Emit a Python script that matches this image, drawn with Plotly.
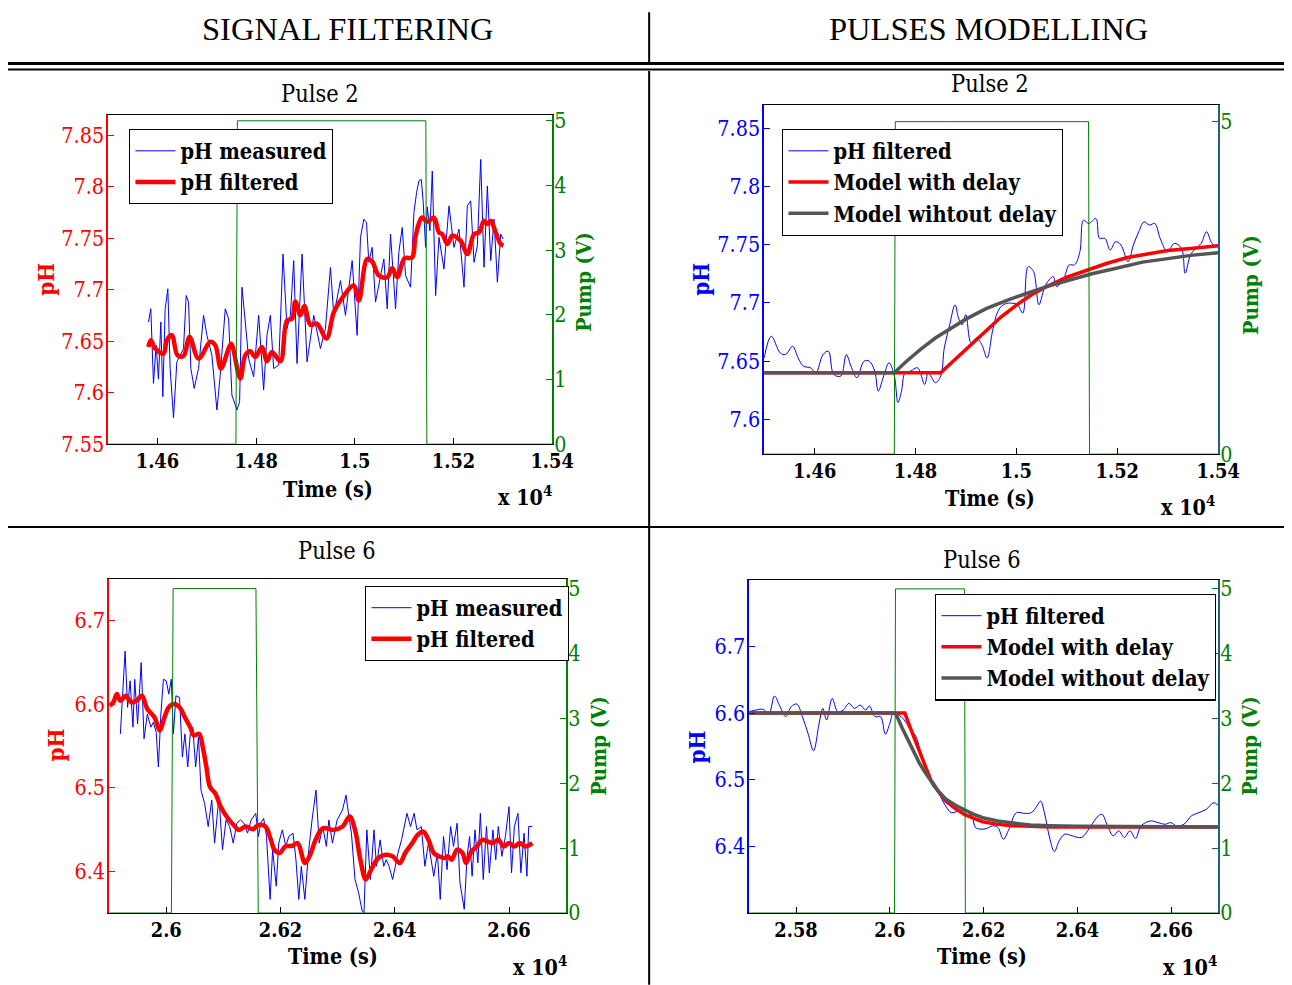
import plotly.graph_objects as go

# ------------------------------------------------------------------ data
# Pulse 2 - signal filtering
p1_meas_t = [1.45817, 1.45865, 1.45919, 1.45973, 1.46020, 1.46068, 1.46108, 1.46156, 1.46210, 1.46257,
             1.46325, 1.46393, 1.46460, 1.46528, 1.46582, 1.46630, 1.46677, 1.46745, 1.46832, 1.46934,
             1.47002, 1.47103, 1.47205, 1.47272, 1.47374, 1.47442, 1.47509, 1.47611, 1.47665, 1.47712,
             1.47780, 1.47848, 1.47949, 1.48051, 1.48152, 1.48220, 1.48288, 1.48355, 1.48457, 1.48545,
             1.48626, 1.48694, 1.48761, 1.48829, 1.48931, 1.49032, 1.49168, 1.49303, 1.49404, 1.49506,
             1.49574, 1.49709, 1.49811, 1.49946, 1.50047, 1.50115, 1.50183, 1.50237, 1.50284, 1.50352,
             1.50420, 1.50521, 1.50589, 1.50657, 1.50724, 1.50826, 1.50893, 1.50961, 1.51029, 1.51130,
             1.51198, 1.51252, 1.51299, 1.51347, 1.51387, 1.51435, 1.51469, 1.51523, 1.51570, 1.51638,
             1.51706, 1.51807, 1.51909, 1.52010, 1.52112, 1.52213, 1.52281, 1.52349, 1.52416, 1.52484,
             1.52552, 1.52619, 1.52687, 1.52755, 1.52822, 1.52890, 1.52958, 1.53005]
p1_meas_ph = [7.6687, 7.6816, 7.6090, 7.6461, 7.6132, 7.6687, 7.5961, 7.6816, 7.7010, 7.6235,
              7.5758, 7.6300, 7.6365, 7.6429, 7.6945, 7.6881, 7.6235, 7.6042, 7.6235, 7.6752,
              7.6558, 7.6365, 7.5832, 7.6171, 7.6816, 7.6719, 7.5977, 7.5832, 7.5913, 7.7026,
              7.6687, 7.6332, 7.6155, 7.6752, 7.6026, 7.6558, 7.6752, 7.6235, 7.6268, 7.7348,
              7.6623, 7.6752, 7.7284, 7.6284, 7.7348, 7.6300, 7.6752, 7.6429, 7.6623, 7.7219,
              7.6752, 7.7090, 7.6752, 7.7284, 7.6558, 7.7510, 7.7687, 7.7655, 7.7268, 7.7413,
              7.6881, 7.7139, 7.7300, 7.6816, 7.7542, 7.6816, 7.7365, 7.7606, 7.7139, 7.7026,
              7.7752, 7.7945, 7.8058, 7.8074, 7.7848, 7.7413, 7.7806, 7.7574, 7.8155, 7.6945,
              7.7510, 7.7203, 7.7816, 7.7413, 7.7590, 7.7026, 7.7816, 7.7865, 7.7268, 7.7429,
              7.8268, 7.7220, 7.8010, 7.7284, 7.7687, 7.7074, 7.7542, 7.7494]
p1_filt_t = [1.45817, 1.45865, 1.45953, 1.46122, 1.46190, 1.46291, 1.46406, 1.46528, 1.46650, 1.46832,
             1.47069, 1.47171, 1.47286, 1.47442, 1.47496, 1.47679, 1.47780, 1.47882, 1.47983, 1.48118,
             1.48220, 1.48321, 1.48491, 1.48626, 1.48728, 1.48795, 1.48897, 1.48978, 1.49100, 1.49235,
             1.49425, 1.49574, 1.49709, 1.49980, 1.50081, 1.50250, 1.50352, 1.50487, 1.50657, 1.50758,
             1.50860, 1.51008, 1.51164, 1.51232, 1.51367, 1.51469, 1.51604, 1.51706, 1.51773, 1.51875,
             1.51976, 1.52145, 1.52281, 1.52416, 1.52518, 1.52619, 1.52687, 1.52755, 1.52856, 1.52958,
             1.53012]
p1_filt_ph = [7.6445, 7.6510, 7.6430, 7.6380, 7.6510, 7.6560, 7.6365, 7.6358, 7.6542, 7.6332,
              7.6494, 7.6461, 7.6235, 7.6430, 7.6477, 7.6139, 7.6365, 7.6403, 7.6348, 7.6445,
              7.6306, 7.6397, 7.6306, 7.6703, 7.6719, 7.6887, 7.6752, 7.6842, 7.6661, 7.6671,
              7.6526, 7.6784, 7.6897, 7.7042, 7.6897, 7.7300, 7.7274, 7.7139, 7.7123, 7.7210,
              7.7123, 7.7306, 7.7316, 7.7526, 7.7703, 7.7661, 7.7703, 7.7558, 7.7542, 7.7445,
              7.7526, 7.7477, 7.7348, 7.7542, 7.7558, 7.7671, 7.7639, 7.7671, 7.7558, 7.7445,
              7.7429]
p1_pump_t = [1.4500, 1.4759, 1.4762, 1.5144, 1.5146, 1.5400]
p1_pump_v = [0, 0, 5, 5, 0, 0]

# Pulse 2 - pulses modelling
p2_filt_t = [1.45000, 1.45141, 1.45318, 1.45424, 1.45566, 1.45672, 1.45778, 1.45919, 1.46025, 1.46167,
             1.46273, 1.46379, 1.46521, 1.46627, 1.46733, 1.46839, 1.46980, 1.47086, 1.47192, 1.47263,
             1.47369, 1.47475, 1.47581, 1.47652, 1.47723, 1.47793, 1.47900, 1.48041, 1.48182, 1.48253,
             1.48395, 1.48501, 1.48571, 1.48678, 1.48784, 1.48854, 1.48925, 1.48996, 1.49102, 1.49208,
             1.49314, 1.49420, 1.49526, 1.49632, 1.49738, 1.49880, 1.50021, 1.50127, 1.50233, 1.50339,
             1.50446, 1.50552, 1.50622, 1.50728, 1.50799, 1.50941, 1.51047, 1.51153, 1.51259, 1.51330,
             1.51436, 1.51577, 1.51648, 1.51754, 1.51860, 1.51966, 1.52072, 1.52214, 1.52320, 1.52426,
             1.52532, 1.52638, 1.52744, 1.52850, 1.52992, 1.53133, 1.53274, 1.53345, 1.53451, 1.53557,
             1.53663, 1.53769, 1.53876, 1.53982]
p2_filt_ph = [7.6527, 7.6713, 7.6570, 7.6556, 7.6627, 7.6527, 7.6456, 7.6442, 7.6399, 7.6556,
              7.6584, 7.6385, 7.6371, 7.6556, 7.6442, 7.6356, 7.6499, 7.6499, 7.6413, 7.6242,
              7.6371, 7.6485, 7.6371, 7.6143, 7.6242, 7.6399, 7.6413, 7.6442, 7.6299, 7.6399,
              7.6314, 7.6371, 7.6613, 7.6812, 7.6983, 7.6869, 7.6812, 7.6898, 7.6656, 7.6698,
              7.6641, 7.6527, 7.6755, 7.6926, 7.6983, 7.6998, 7.6983, 7.6912, 7.7311, 7.7269,
              7.6983, 7.7126, 7.7183, 7.7226, 7.7140, 7.7212, 7.7326, 7.7326, 7.7440, 7.7710,
              7.7682, 7.7725, 7.7554, 7.7554, 7.7454, 7.7525, 7.7497, 7.7354, 7.7497, 7.7611,
              7.7696, 7.7668, 7.7682, 7.7554, 7.7440, 7.7511, 7.7468, 7.7254, 7.7411, 7.7468,
              7.7511, 7.7611, 7.7511, 7.7482]
p2_delay_t = [1.450, 1.485, 1.488, 1.491, 1.494, 1.497, 1.500, 1.503, 1.506, 1.510, 1.514,
              1.518, 1.522, 1.526, 1.530, 1.535, 1.540]
p2_delay_ph = [7.640, 7.640, 7.652, 7.664, 7.676, 7.688, 7.698, 7.707, 7.714, 7.722, 7.728,
               7.734, 7.739, 7.742, 7.745, 7.747, 7.749]
p2_nodelay_t = [1.450, 1.4758, 1.478, 1.481, 1.484, 1.487, 1.490, 1.494, 1.498, 1.502, 1.506,
                1.510, 1.515, 1.520, 1.525, 1.530, 1.535, 1.540]
p2_nodelay_ph = [7.640, 7.640, 7.649, 7.660, 7.670, 7.678, 7.686, 7.695, 7.702, 7.708, 7.714,
                 7.719, 7.725, 7.730, 7.735, 7.738, 7.741, 7.743]
p2_pump_t = [1.4500, 1.4758, 1.4760, 1.5143, 1.5145, 1.5400]
p2_pump_v = [0, 0, 5, 5, 0, 0]

# Pulse 6 - signal filtering
p3_meas_t = [2.59197, 2.59229, 2.59279, 2.59323, 2.59367, 2.59417, 2.59448, 2.59498, 2.59561, 2.59611,
             2.59668, 2.59730, 2.59774, 2.59824, 2.59862, 2.59906, 2.59950, 2.60000, 2.60044, 2.60088,
             2.60125, 2.60169, 2.60232, 2.60282, 2.60326, 2.60376, 2.60420, 2.60464, 2.60514, 2.60564,
             2.60608, 2.60671, 2.60734, 2.60796, 2.60846, 2.60922, 2.60984, 2.61047, 2.61110, 2.61172,
             2.61235, 2.61298, 2.61361, 2.61423, 2.61486, 2.61567, 2.61611, 2.61655, 2.61705, 2.61755,
             2.61818, 2.61862, 2.61925, 2.61969, 2.62031, 2.62094, 2.62144, 2.62219, 2.62270, 2.62320,
             2.62364, 2.62426, 2.62489, 2.62552, 2.62621, 2.62677, 2.62740, 2.62803, 2.62846, 2.62909,
             2.62991, 2.63085, 2.63147, 2.63197, 2.63241, 2.63304, 2.63367, 2.63429, 2.63461, 2.63511,
             2.63574, 2.63636, 2.63680, 2.63743, 2.63806, 2.63850, 2.63900, 2.63962, 2.64056, 2.64119,
             2.64163, 2.64213, 2.64276, 2.64339, 2.64389, 2.64464, 2.64527, 2.64589, 2.64683, 2.64746,
             2.64796, 2.64853, 2.64915, 2.64978, 2.65028, 2.65091, 2.65141, 2.65216, 2.65266, 2.65310,
             2.65354, 2.65404, 2.65455, 2.65498, 2.65549, 2.65605, 2.65655, 2.65718, 2.65768, 2.65812,
             2.65875, 2.65937, 2.66000, 2.66044, 2.66094, 2.66157, 2.66207, 2.66263, 2.66313, 2.66345,
             2.66408]
p3_meas_ph = [6.5644, 6.6080, 6.6635, 6.5962, 6.6279, 6.5724, 6.6298, 6.5763, 6.6497, 6.5585,
              6.5882, 6.5724, 6.5783, 6.5664, 6.5248, 6.5882, 6.6298, 6.6279, 6.6120, 6.6298,
              6.5644, 6.6100, 6.6080, 6.5367, 6.5644, 6.5248, 6.5644, 6.5724, 6.5248, 6.5605,
              6.4971, 6.4812, 6.4535, 6.4852, 6.4337, 6.4891, 6.4257, 6.4614, 6.4535, 6.4337,
              6.4574, 6.4614, 6.4574, 6.4455, 6.4614, 6.4693, 6.4416, 6.4574, 6.4634, 6.4416,
              6.3663, 6.4257, 6.3821, 6.4337, 6.4495, 6.4297, 6.4416, 6.4455, 6.4138, 6.3663,
              6.4059, 6.3663, 6.4218, 6.4614, 6.4971, 6.4337, 6.4535, 6.4297, 6.4614, 6.4337,
              6.4614, 6.4733, 6.4911, 6.4654, 6.4455, 6.3901, 6.3742, 6.3524, 6.3504, 6.4495,
              6.3901, 6.4495, 6.4059, 6.4376, 6.4059, 6.4138, 6.4059, 6.3901, 6.4218, 6.4376,
              6.4535, 6.4693, 6.4535, 6.4693, 6.4495, 6.4535, 6.4059, 6.4337, 6.3940, 6.4218,
              6.3663, 6.4416, 6.4019, 6.4535, 6.4297, 6.4574, 6.3861, 6.3544, 6.4178, 6.4416,
              6.3940, 6.4495, 6.4099, 6.4693, 6.3901, 6.4535, 6.3980, 6.4495, 6.4138, 6.4535,
              6.4178, 6.4416, 6.4773, 6.3980, 6.4535, 6.4693, 6.3980, 6.4455, 6.3940, 6.4535,
              6.4535]
p3_filt_t = [2.59009, 2.59072, 2.59135, 2.59197, 2.59292, 2.59386, 2.59480, 2.59574, 2.59668, 2.59793,
             2.59887, 2.59950, 2.60044, 2.60138, 2.60232, 2.60326, 2.60420, 2.60483, 2.60577, 2.60639,
             2.60702, 2.60765, 2.60859, 2.60953, 2.61078, 2.61204, 2.61266, 2.61392, 2.61517, 2.61611,
             2.61737, 2.61831, 2.61893, 2.61987, 2.62082, 2.62207, 2.62301, 2.62426, 2.62520, 2.62614,
             2.62740, 2.62928, 2.63085, 2.63210, 2.63304, 2.63398, 2.63492, 2.63586, 2.63712, 2.63837,
             2.63962, 2.64088, 2.64182, 2.64307, 2.64401, 2.64495, 2.64589, 2.64683, 2.64777, 2.64871,
             2.64934, 2.64997, 2.65091, 2.65185, 2.65248, 2.65342, 2.65436, 2.65530, 2.65624, 2.65718,
             2.65812, 2.65906, 2.66000, 2.66094, 2.66188, 2.66282, 2.66408]
p3_filt_ph = [6.5981, 6.6021, 6.6120, 6.6041, 6.6100, 6.6021, 6.6041, 6.6100, 6.5942, 6.5843,
              6.5684, 6.5803, 6.5962, 6.6001, 6.5962, 6.5843, 6.5724, 6.5625, 6.5644, 6.5486,
              6.5248, 6.5010, 6.4931, 6.4772, 6.4634, 6.4535, 6.4495, 6.4535, 6.4503, 6.4554,
              6.4535, 6.4376, 6.4257, 6.4218, 6.4297, 6.4305, 6.4337, 6.4099, 6.4198, 6.4376,
              6.4515, 6.4495, 6.4535, 6.4654, 6.4495, 6.4138, 6.3901, 6.4019, 6.4158, 6.4198,
              6.4178, 6.4099, 6.4218, 6.4337, 6.4436, 6.4475, 6.4376, 6.4218, 6.4178, 6.4158,
              6.4178, 6.4138, 6.4257, 6.4218, 6.4099, 6.4237, 6.4297, 6.4376, 6.4356, 6.4337,
              6.4376, 6.4297, 6.4337, 6.4297, 6.4337, 6.4297, 6.4337]
p3_pump_t = [2.5900, 2.6009, 2.6012, 2.6157, 2.6161, 2.6700]
p3_pump_v = [0, 0, 5, 5, 0, 0]

# Pulse 6 - pulses modelling
p4_filt_t = [2.57000, 2.57143, 2.57302, 2.57421, 2.57540, 2.57659, 2.57778, 2.57897, 2.58016, 2.58135,
             2.58254, 2.58373, 2.58492, 2.58571, 2.58651, 2.58770, 2.58889, 2.59008, 2.59127, 2.59246,
             2.59365, 2.59484, 2.59563, 2.59683, 2.59802, 2.59905, 2.60000, 2.60079, 2.60238, 2.60357,
             2.60437, 2.60556, 2.60675, 2.60794, 2.60913, 2.61032, 2.61190, 2.61310, 2.61468, 2.61587,
             2.61746, 2.61825, 2.61944, 2.62063, 2.62183, 2.62302, 2.62421, 2.62540, 2.62698, 2.62857,
             2.63016, 2.63135, 2.63214, 2.63294, 2.63413, 2.63508, 2.63611, 2.63730, 2.63889, 2.64087,
             2.64286, 2.64444, 2.64524, 2.64643, 2.64762, 2.64881, 2.65000, 2.65119, 2.65238, 2.65357,
             2.65556, 2.65714, 2.65873, 2.65992, 2.66111, 2.66270, 2.66429, 2.66587, 2.66746, 2.66905,
             2.67000]
p4_filt_ph = [6.6021, 6.6046, 6.6056, 6.5987, 6.6255, 6.6096, 6.5947, 6.6096, 6.6136, 6.5947,
              6.5698, 6.5435, 6.5847, 6.6071, 6.5897, 6.6220, 6.6021, 6.6046, 6.6146, 6.6071,
              6.6121, 6.6046, 6.6106, 6.5947, 6.5947, 6.5684, 6.5847, 6.5997, 6.5947, 6.5847,
              6.5748, 6.5649, 6.5351, 6.5102, 6.4904, 6.4804, 6.4606, 6.4506, 6.4531, 6.4531,
              6.4457, 6.4283, 6.4258, 6.4268, 6.4308, 6.4283, 6.4109, 6.4258, 6.4506, 6.4496,
              6.4506, 6.4606, 6.4680, 6.4506, 6.4109, 6.3920, 6.4084, 6.4183, 6.4158, 6.4134,
              6.4308, 6.4457, 6.4481, 6.4308, 6.4158, 6.4233, 6.4134, 6.4233, 6.4119, 6.4308,
              6.4382, 6.4357, 6.4332, 6.4357, 6.4308, 6.4332, 6.4457, 6.4506, 6.4556, 6.4655,
              6.4615]
p4_delay_t = [2.570, 2.6032, 2.6044, 2.6056, 2.6071, 2.6087, 2.6103, 2.6119, 2.6139, 2.6159,
              2.6179, 2.6198, 2.6230, 2.6262, 2.6300, 2.6341, 2.6400, 2.6700]
p4_delay_ph = [6.600, 6.600, 6.577, 6.555, 6.527, 6.500, 6.483, 6.468, 6.457, 6.448,
               6.442, 6.437, 6.433, 6.431, 6.430, 6.429, 6.429, 6.429]
p4_nodelay_t = [2.570, 2.6012, 2.6026, 2.6040, 2.6051, 2.6063, 2.6075, 2.6087, 2.6103, 2.6119,
                2.6139, 2.6159, 2.6179, 2.6198, 2.6230, 2.6262, 2.6300, 2.6341, 2.6400, 2.6700]
p4_nodelay_ph = [6.600, 6.600, 6.578, 6.557, 6.540, 6.525, 6.511, 6.498, 6.483, 6.471,
                 6.462, 6.455, 6.448, 6.443, 6.438, 6.435, 6.432, 6.431, 6.430, 6.429]
p4_pump_t = [2.5700, 2.6010, 2.6012, 2.6159, 2.6161, 2.6700]
p4_pump_v = [0, 0, 5, 5, 0, 0]

# tick labels
p1_xticks = [1.46, 1.48, 1.50, 1.52, 1.54]
p1_xlabels = ["1.46", "1.48", "1.5", "1.52", "1.54"]
p1_yticks = [7.55, 7.60, 7.65, 7.70, 7.75, 7.80, 7.85]
p1_ylabels = ["7.55", "7.6", "7.65", "7.7", "7.75", "7.8", "7.85"]
p2_yticks = [7.60, 7.65, 7.70, 7.75, 7.80, 7.85]
p2_ylabels = ["7.6", "7.65", "7.7", "7.75", "7.8", "7.85"]
p3_xticks = [2.60, 2.62, 2.64, 2.66]
p3_xlabels = ["2.6", "2.62", "2.64", "2.66"]
p4_xticks = [2.58, 2.60, 2.62, 2.64, 2.66]
p4_xlabels = ["2.58", "2.6", "2.62", "2.64", "2.66"]
p6_yticks = [6.4, 6.5, 6.6, 6.7]
p6_ylabels = ["6.4", "6.5", "6.6", "6.7"]
pump_ticks = [0, 1, 2, 3, 4, 5]
pump_labels = ["0", "1", "2", "3", "4", "5"]
pump_ticks_short = [0, 5]
pump_labels_short = ["0", "5"]

# ------------------------------------------------------------------ layout helpers
S = 0.983                 # page-to-picture scale observed for this renderer
W, H = 1296, 978
LEFT, TOP = 8, 13
def X(px):
    return (px / S - LEFT) / W
def Y(py):
    return 1 - (py / S - TOP) / H
def F(sz):
    return sz / S

HFONT = "Liberation Serif"
FONT = "DejaVu Serif Condensed, DejaVu Serif, serif"
RED, BLUE, GREEN, GRAY, TEAL = "#ff0000", "#0000ff", "#008000", "#555555", "#22607e"

fig = go.Figure()

panels = [
    dict(box=(108, 552, 113, 443), xr=[1.45, 1.54], xt=p1_xticks, xl=p1_xlabels,
         yr=[7.55, 7.87], yt=p1_yticks, yl=p1_ylabels, lc=RED,
         y2r=[0, 5.09], y2t=pump_ticks, y2l=pump_labels, rc=GREEN),
    dict(box=(764, 1218, 103, 453), xr=[1.45, 1.54], xt=p1_xticks, xl=p1_xlabels,
         yr=[7.57, 7.87], yt=p2_yticks, yl=p2_ylabels, lc=BLUE,
         y2r=[0, 5.25], y2t=pump_ticks_short, y2l=pump_labels_short, rc=TEAL),
    dict(box=(109, 566, 578, 913), xr=[2.59, 2.67], xt=p3_xticks, xl=p3_xlabels,
         yr=[6.35, 6.75], yt=p6_yticks, yl=p6_ylabels, lc=RED,
         y2r=[0, 5.15], y2t=pump_ticks, y2l=pump_labels, rc=GREEN),
    dict(box=(749, 1218, 579, 913), xr=[2.57, 2.67], xt=p4_xticks, xl=p4_xlabels,
         yr=[6.30, 6.80], yt=p6_yticks, yl=p6_ylabels, lc=BLUE,
         y2r=[0, 5.14], y2t=pump_ticks, y2l=pump_labels, rc=TEAL),
]

layout_axes = {}
for i, p in enumerate(panels, start=1):
    x0, x1, y0, y1 = p["box"]
    xn = "xaxis" if i == 1 else f"xaxis{i}"
    yl_n = 2 * i - 1
    yr_n = 2 * i
    xref = "x" if i == 1 else f"x{i}"
    ylref = "y" if yl_n == 1 else f"y{yl_n}"
    layout_axes[xn] = dict(
        domain=[X(x0), X(x1)], range=p["xr"], anchor=ylref,
        tickmode="array", tickvals=p["xt"], ticktext=p["xl"],
        ticks="inside", ticklen=6, tickcolor="black", mirror=True,
        showline=True, linecolor="black", linewidth=1.2,
        showgrid=False, zeroline=False,
        tickfont=dict(family=FONT, size=F(19.5), color="black", weight="bold"),
        ticklabelstandoff=-1,
    )
    layout_axes[f"yaxis{yl_n}"] = dict(
        domain=[Y(y1), Y(y0)], range=p["yr"], anchor=xref,
        tickmode="array", tickvals=p["yt"], ticktext=p["yl"],
        ticks="inside", ticklen=6, tickcolor=p["lc"], mirror=True,
        showline=True, linecolor=p["lc"], linewidth=1.5,
        showgrid=False, zeroline=False,
        tickfont=dict(family=FONT, size=F(21), color=p["lc"]),
        ticklabelstandoff=-2,
    )
    layout_axes[f"yaxis{yr_n}"] = dict(
        range=p["y2r"], anchor=xref, overlaying=ylref, side="right",
        tickmode="array", tickvals=p["y2t"], ticktext=p["y2l"],
        ticks="inside", ticklen=6, tickcolor=GREEN,
        showline=True, linecolor=p["rc"], linewidth=1.5,
        showgrid=False, zeroline=False,
        tickfont=dict(family=FONT, size=F(21), color=GREEN),
        ticklabelstandoff=-4,
    )

fig.update_layout(**layout_axes)

def refs(i):
    xref = "x" if i == 1 else f"x{i}"
    yl = 2 * i - 1
    ylref = "y" if yl == 1 else f"y{yl}"
    return xref, ylref, f"y{2 * i}"

# panel 1
xr, yl, yr = refs(1)
fig.add_trace(go.Scatter(x=p1_meas_t, y=p1_meas_ph, mode="lines", name="pH measured",
                         line=dict(color=BLUE, width=1), xaxis=xr, yaxis=yl, legend="legend"))
fig.add_trace(go.Scatter(x=p1_filt_t, y=p1_filt_ph, mode="lines", name="pH filtered",
                         line=dict(color=RED, width=4.5, shape="spline"), xaxis=xr, yaxis=yl, legend="legend"))
fig.add_trace(go.Scatter(x=p1_pump_t, y=p1_pump_v, mode="lines", showlegend=False,
                         line=dict(color=GREEN, width=1), xaxis=xr, yaxis=yr))

# panel 2
xr, yl, yr = refs(2)
fig.add_trace(go.Scatter(x=p2_filt_t, y=p2_filt_ph, mode="lines", name="pH filtered",
                         line=dict(color=BLUE, width=1, shape="spline"), xaxis=xr, yaxis=yl, legend="legend2"))
fig.add_trace(go.Scatter(x=p2_delay_t, y=p2_delay_ph, mode="lines", name="Model with delay",
                         line=dict(color=RED, width=3.5), xaxis=xr, yaxis=yl, legend="legend2"))
fig.add_trace(go.Scatter(x=p2_nodelay_t, y=p2_nodelay_ph, mode="lines", name="Model wihtout delay",
                         line=dict(color=GRAY, width=3.5), xaxis=xr, yaxis=yl, legend="legend2"))
fig.add_trace(go.Scatter(x=p2_pump_t, y=p2_pump_v, mode="lines", showlegend=False,
                         line=dict(color=GREEN, width=1), xaxis=xr, yaxis=yr))

# panel 3
xr, yl, yr = refs(3)
fig.add_trace(go.Scatter(x=p3_meas_t, y=p3_meas_ph, mode="lines", name="pH measured",
                         line=dict(color=BLUE, width=1), xaxis=xr, yaxis=yl, legend="legend3"))
fig.add_trace(go.Scatter(x=p3_filt_t, y=p3_filt_ph, mode="lines", name="pH filtered",
                         line=dict(color=RED, width=4.5, shape="spline"), xaxis=xr, yaxis=yl, legend="legend3"))
fig.add_trace(go.Scatter(x=p3_pump_t, y=p3_pump_v, mode="lines", showlegend=False,
                         line=dict(color=GREEN, width=1), xaxis=xr, yaxis=yr))

# panel 4
xr, yl, yr = refs(4)
fig.add_trace(go.Scatter(x=p4_filt_t, y=p4_filt_ph, mode="lines", name="pH filtered",
                         line=dict(color=BLUE, width=1, shape="spline"), xaxis=xr, yaxis=yl, legend="legend4"))
fig.add_trace(go.Scatter(x=p4_delay_t, y=p4_delay_ph, mode="lines", name="Model with delay",
                         line=dict(color=RED, width=3.5), xaxis=xr, yaxis=yl, legend="legend4"))
fig.add_trace(go.Scatter(x=p4_nodelay_t, y=p4_nodelay_ph, mode="lines", name="Model without delay",
                         line=dict(color=GRAY, width=3.5), xaxis=xr, yaxis=yl, legend="legend4"))
fig.add_trace(go.Scatter(x=p4_pump_t, y=p4_pump_v, mode="lines", showlegend=False,
                         line=dict(color=GREEN, width=1), xaxis=xr, yaxis=yr))

def legend_at(px, py):
    return dict(x=X(px), y=Y(py), xanchor="left", yanchor="top", bgcolor="white",
                bordercolor="black", borderwidth=1.3, tracegroupgap=0, itemwidth=40,
                font=dict(family=FONT, size=F(21.3), color="black", weight="bold"))

fig.update_layout(
    legend=legend_at(129, 127), legend2=legend_at(782, 127),
    legend3=legend_at(365, 585), legend4=legend_at(935, 593),
)

anns = []
def ann(text, px, py, size, color="black", angle=0, bold=False, family=FONT):
    t = f"<b>{text}</b>" if bold else text
    anns.append(dict(text=t, x=X(px), y=Y(py), xref="paper", yref="paper", showarrow=False,
                     xanchor="center", yanchor="middle", textangle=angle,
                     font=dict(family=family, size=F(size), color=color)))

ann("SIGNAL FILTERING", 347, 27, 32, family=HFONT)
ann("PULSES MODELLING", 988, 27, 32, family=HFONT)

specs = [
    dict(title=(320, 92), time=(328, 488), x10=(525, 495), ph=(45, 278), pump=(583, 280), phc=RED),
    dict(title=(990, 82), time=(990, 497), x10=(1188, 505), ph=(700, 278), pump=(1250, 283), phc=BLUE),
    dict(title=(337, 550), time=(333, 957), x10=(540, 966), ph=(56, 745), pump=(598, 745), phc=RED),
    dict(title=(982, 559), time=(982, 957), x10=(1190, 966), ph=(697, 747), pump=(1249, 745), phc=BLUE),
]
titles = ["Pulse 2", "Pulse 2", "Pulse 6", "Pulse 6"]
for s, tt in zip(specs, titles):
    ann(tt, *s["title"], 23)
    ann("Time (s)", *s["time"], 21, bold=True)
    ann("x 10<sup>4</sup>", *s["x10"], 21, bold=True)
    ann("pH", *s["ph"], 22, color=s["phc"], angle=-90, bold=True)
    ann("Pump (V)", *s["pump"], 20.5, color=GREEN, angle=-90, bold=True)

shapes = [
    dict(type="line", xref="paper", yref="paper", x0=X(7), x1=X(1292), y0=Y(61.5), y1=Y(61.5),
         line=dict(color="black", width=3)),
    dict(type="line", xref="paper", yref="paper", x0=X(7), x1=X(1292), y0=Y(67.5), y1=Y(67.5),
         line=dict(color="black", width=2)),
    dict(type="line", xref="paper", yref="paper", x0=X(649), x1=X(649), y0=Y(10), y1=Y(60),
         line=dict(color="black", width=2)),
    dict(type="line", xref="paper", yref="paper", x0=X(649), x1=X(649), y0=Y(69), y1=Y(985),
         line=dict(color="black", width=2)),
    dict(type="line", xref="paper", yref="paper", x0=X(7), x1=X(1292), y0=Y(526), y1=Y(526),
         line=dict(color="black", width=2)),
]

fig.update_layout(
    width=W, height=H, autosize=False,
    margin=dict(l=0, r=0, t=0, b=0, pad=0),
    paper_bgcolor="white", plot_bgcolor="white",
    annotations=anns, shapes=shapes,
    font=dict(family=FONT),
)

fig.write_html("out.html")
